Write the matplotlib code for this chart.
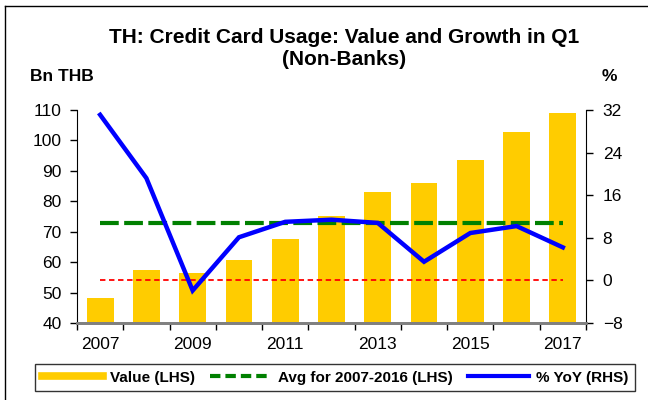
import numpy as np
import matplotlib
matplotlib.use("Agg")
import matplotlib.pyplot as plt
from matplotlib.lines import Line2D

plt.rcParams['font.family'] = ['Liberation Sans', 'DejaVu Sans']

years = [2007, 2008, 2009, 2010, 2011, 2012, 2013, 2014, 2015, 2016, 2017]
value_bn = [48.2, 57.3, 56.3, 60.7, 67.5, 75.2, 83.2, 86.0, 93.5, 102.8, 109.1]
yoy_pct = [31.1, 19.2, -1.9, 8.1, 11.0, 11.4, 10.8, 3.5, 8.9, 10.2, 6.2]
avg_2007_2016 = 73.0

x = np.arange(len(years))

fig = plt.figure(figsize=(6.48, 4.0), dpi=100)
ax = fig.add_axes([0.1188, 0.1925, 0.7855, 0.5325])
ax2 = ax.twinx()

# bars + long-run average on the left axis
ax.bar(x, value_bn, width=0.58, color='#FFCC00', zorder=2)
ax.plot([x[0], x[-1]], [avg_2007_2016] * 2, color='#008000', lw=3,
        dashes=(4.5, 1.3), zorder=3)

# growth on the right axis
ax2.plot([x[0], x[-1]], [0, 0], color='#FF0000', lw=1.3, dashes=(3, 2))
ax2.plot(x, yoy_pct, color='#0000FF', lw=3.2, solid_joinstyle='miter')

ax.set_xlim(-0.5, len(years) - 0.5)
ax.set_ylim(40, 110)
ax.set_yticks(range(40, 111, 10))
ax2.set_ylim(-8, 32)
ax2.set_yticks(range(-8, 33, 8))

ax.set_xticks(np.arange(-0.5, len(years), 1.0))
ax.set_xticklabels([])
ax.set_xticks(x[::2], minor=True)
ax.set_xticklabels([str(y) for y in years[::2]], minor=True)
ax.tick_params(axis='x', which='major', length=5, width=1, direction='out')
ax.tick_params(axis='x', which='minor', length=0, pad=10, labelsize=12.5)
ax.tick_params(axis='y', length=5, width=1, labelsize=12.5, pad=6)
ax2.tick_params(axis='y', length=5, width=1, labelsize=12.5, pad=7)

for a in (ax, ax2):
    a.spines['top'].set_visible(False)
    a.spines['bottom'].set_color('#808080')
    a.spines['bottom'].set_linewidth(2)
ax.spines['right'].set_visible(False)
ax2.spines['left'].set_visible(False)

fig.text(0.531, 0.907, 'TH: Credit Card Usage: Value and Growth in Q1',
         ha='center', va='center', fontsize=15, fontweight='bold')
fig.text(0.531, 0.851, '(Non-Banks)', ha='center', va='center',
         fontsize=15, fontweight='bold')
fig.text(0.046, 0.808, 'Bn THB', ha='left', va='center', fontsize=12.5,
         fontweight='bold')
fig.text(0.929, 0.808, '%', ha='left', va='center', fontsize=12.5,
         fontweight='bold')

handles = [Line2D([], [], color='#FFCC00', lw=5.5),
           Line2D([], [], color='#008000', lw=3, dashes=(2.5, 1.2)),
           Line2D([], [], color='#0000FF', lw=3)]
labels = ['Value (LHS)', 'Avg for 2007-2016 (LHS)', '% YoY (RHS)']
leg = fig.legend(handles, labels, loc='center', bbox_to_anchor=(0.517, 0.056),
                 ncol=3, frameon=True, fancybox=False, edgecolor='black',
                 handlelength=4.0, handletextpad=0.45, columnspacing=1.0,
                 borderpad=0.45, prop={'weight': 'bold', 'size': 11})
leg.get_frame().set_linewidth(1)

# outer frame of the chart
fig.add_artist(Line2D([0.008, 0.008], [0.0, 0.985], color='black', lw=1,
                      transform=fig.transFigure))
fig.add_artist(Line2D([0.008, 1.0], [0.985, 0.985], color='black', lw=1,
                      transform=fig.transFigure))

fig.savefig('out.png', dpi=100)
